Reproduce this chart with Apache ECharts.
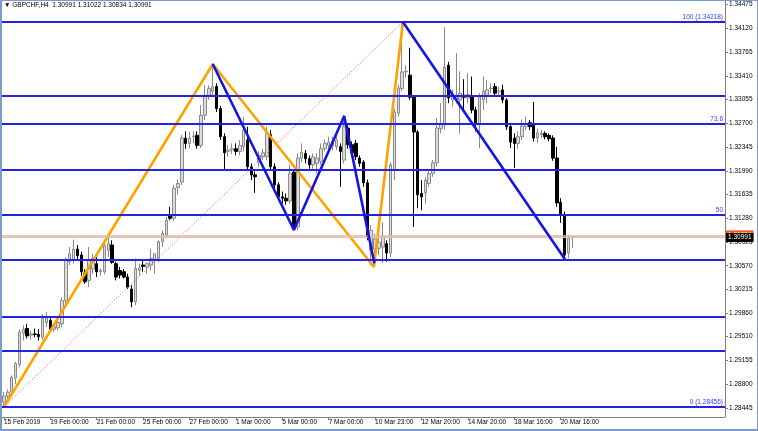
<!DOCTYPE html>
<html><head><meta charset="utf-8">
<script src="https://cdn.jsdelivr.net/npm/echarts@6/dist/echarts.min.js"></script>
<style>
html,body{margin:0;padding:0;background:#fff}
#w{position:relative;width:758px;height:431px}
#c{position:absolute;left:0;top:0;width:758px;height:431px}
#f{position:absolute;left:0;top:0;width:758px;height:431px;box-sizing:border-box;border:1px solid #7b9bc9;border-left-width:2px;border-bottom-width:2px;pointer-events:none}
</style>
</head><body>
<div id="w"><div id="c"></div><div id="f"></div></div>
<script>
// ---- data ----
const headerText = '\u25BC GBPCHF,H4  1.30991 1.31022 1.30834 1.30991';
const xTickLabels = ['15 Feb 2019','19 Feb 00:00','21 Feb 00:00','25 Feb 00:00','27 Feb 00:00','1 Mar 00:00','5 Mar 00:00','7 Mar 00:00','10 Mar 23:00','12 Mar 20:00','14 Mar 20:00','18 Mar 16:00','20 Mar 16:00'];
const xTickEvery = 12;
const slotCount = 187;
const yTickValues = [1.28445,1.28800,1.29155,1.29510,1.29860,1.30215,1.30570,1.30925,1.31280,1.31635,1.31990,1.32345,1.32700,1.33055,1.33410,1.33765,1.34120,1.34475];
const yMin = 1.28307, yMax = 1.34530;
// [open, high, low, close]
const ohlc = [
[1.2853,1.2868,1.28456,1.2862],[1.2862,1.2872,1.2858,1.2868],[1.2868,1.2893,1.2864,1.2890],[1.2889,1.2913,1.2880,1.2911],
[1.2909,1.2962,1.2905,1.2958],[1.2956,1.2968,1.2945,1.2962],[1.2963,1.2970,1.2948,1.2952],[1.2953,1.2960,1.2946,1.2955],
[1.2955,1.2963,1.2950,1.2954],[1.2954,1.2962,1.2945,1.2951],[1.2950,1.2985,1.2946,1.2978],[1.2972,1.2988,1.2965,1.2980],
[1.2975,1.2980,1.2958,1.2962],[1.2962,1.2970,1.2958,1.2966],[1.2964,1.2975,1.2960,1.2972],[1.2970,1.3010,1.2965,1.3005],
[1.3005,1.3070,1.3000,1.3065],[1.3063,1.3085,1.3058,1.3075],[1.3065,1.3096,1.3060,1.3082],[1.3082,1.3088,1.3067,1.3072],
[1.3073,1.3078,1.3042,1.3048],[1.3046,1.3052,1.3030,1.3033],[1.3035,1.3085,1.3025,1.3065],[1.3052,1.3075,1.3045,1.3068],
[1.3060,1.3070,1.3040,1.3048],[1.3048,1.3053,1.3042,1.3050],[1.3048,1.3095,1.3044,1.3087],[1.3080,1.3100,1.3070,1.3090],
[1.3088,1.3095,1.3060,1.3062],[1.3060,1.3063,1.3035,1.3040],[1.3050,1.3055,1.3038,1.3043],[1.3048,1.3052,1.3038,1.3040],
[1.3040,1.3045,1.3022,1.3025],[1.3022,1.3028,1.2995,1.3003],[1.3003,1.3068,1.2998,1.3053],[1.3050,1.3060,1.3042,1.3054],
[1.3058,1.3066,1.3048,1.3056],[1.3055,1.3062,1.3045,1.3060],[1.3058,1.3082,1.3050,1.3068],[1.3066,1.3075,1.3045,1.3075],
[1.3068,1.3095,1.3062,1.3093],[1.3093,1.3110,1.3085,1.3105],[1.3103,1.3130,1.3098,1.3125],[1.3132,1.3145,1.3125,1.3128],
[1.3128,1.3178,1.3124,1.3173],[1.3174,1.3186,1.3163,1.3180],[1.3182,1.3253,1.3178,1.3248],[1.3248,1.3258,1.3232,1.3240],
[1.3240,1.3257,1.3233,1.3248],[1.3250,1.3258,1.3240,1.3251],[1.3252,1.3258,1.3232,1.3237],[1.3237,1.3297,1.3233,1.3282],
[1.3282,1.3327,1.3275,1.3312],[1.3312,1.3327,1.3305,1.3322],[1.3318,1.3359,1.3310,1.3325],[1.3325,1.3330,1.3287,1.3292],
[1.3292,1.3296,1.3245,1.3250],[1.3250,1.3255,1.3200,1.3226],[1.3228,1.3238,1.3220,1.3230],[1.3230,1.3240,1.3224,1.3232],
[1.3232,1.3240,1.3222,1.3228],[1.3228,1.3245,1.3222,1.3237],[1.3235,1.3280,1.3228,1.3260],[1.3245,1.3265,1.3200,1.3205],
[1.3205,1.3210,1.3185,1.3193],[1.3193,1.3198,1.3166,1.3190],[1.3212,1.3228,1.3205,1.3222],[1.3220,1.3232,1.3215,1.3226],
[1.3220,1.3265,1.3215,1.3255],[1.3253,1.3260,1.3200,1.3205],[1.3205,1.3210,1.3172,1.3178],[1.3178,1.3182,1.3155,1.3160],
[1.3160,1.3168,1.3150,1.3158],[1.3158,1.3165,1.3148,1.3154],[1.3154,1.3208,1.3150,1.3195],[1.3197,1.3200,1.3110,1.3115],
[1.3115,1.3225,1.3110,1.3218],[1.3218,1.3240,1.3212,1.3227],[1.3225,1.3230,1.3210,1.3217],[1.3217,1.3222,1.3202,1.3208],
[1.3208,1.3225,1.3202,1.3220],[1.3210,1.3225,1.3195,1.3218],[1.3213,1.3240,1.3208,1.3232],[1.3232,1.3246,1.3228,1.3240],
[1.3237,1.3250,1.3232,1.3242],[1.3236,1.3250,1.3230,1.3243],[1.3235,1.3258,1.3230,1.3245],[1.3235,1.3240,1.3175,1.3228],
[1.3215,1.3282,1.3210,1.3265],[1.3263,1.3270,1.3232,1.3238],[1.3238,1.3243,1.3220,1.3226],[1.3240,1.3245,1.3215,1.3220],
[1.3218,1.3222,1.3205,1.3210],[1.3212,1.3215,1.3175,1.3181],[1.3181,1.3186,1.3095,1.3100],[1.3080,1.3118,1.3058,1.3110],
[1.3082,1.3105,1.3068,1.3097],[1.3083,1.3103,1.3073,1.3092],[1.3085,1.3122,1.3061,1.3100],[1.3090,1.3095,1.3063,1.3076],
[1.3076,1.3212,1.3070,1.3208],[1.3200,1.3292,1.3185,1.3287],[1.3285,1.3328,1.3280,1.3323],[1.3322,1.34218,1.3318,1.3347],
[1.3347,1.3357,1.3338,1.3348],[1.3342,1.3383,1.3305,1.3309],[1.3309,1.3312,1.3115,1.3257],[1.3257,1.3260,1.3143,1.3163],
[1.3165,1.3185,1.3140,1.3160],[1.3166,1.3190,1.3150,1.3185],[1.3180,1.3200,1.3175,1.3195],[1.3195,1.3215,1.3190,1.3211],
[1.3211,1.3278,1.3205,1.3263],[1.3262,1.3300,1.3255,1.3268],[1.3268,1.3414,1.3260,1.3354],[1.3357,1.3362,1.3300,1.3308],
[1.3305,1.3320,1.3295,1.3312],[1.3306,1.3375,1.3300,1.3312],[1.3305,1.3348,1.3255,1.3315],[1.3312,1.3336,1.3290,1.3309],
[1.3308,1.3345,1.3300,1.3313],[1.3310,1.3340,1.3285,1.3290],[1.3290,1.3295,1.3258,1.3268],[1.3268,1.3315,1.3233,1.3310],
[1.3305,1.3340,1.3290,1.3318],[1.3312,1.3335,1.3300,1.3320],[1.3322,1.3330,1.3315,1.3322],[1.3325,1.3330,1.3312,1.3315],
[1.3318,1.3325,1.3310,1.3318],[1.3320,1.3328,1.3300,1.3305],[1.3305,1.3308,1.3260,1.3265],[1.3265,1.3270,1.3233,1.3242],
[1.3248,1.3255,1.3203,1.3240],[1.3240,1.3258,1.3232,1.3250],[1.3250,1.3276,1.3245,1.3266],[1.3265,1.3280,1.3260,1.3270],
[1.3271,1.3275,1.3260,1.3265],[1.3267,1.3302,1.3243,1.3248],[1.3248,1.3262,1.3240,1.3256],[1.3253,1.3260,1.3248,1.3255],
[1.3255,1.3258,1.3246,1.3250],[1.3252,1.3255,1.3243,1.3247],[1.3248,1.3252,1.3214,1.3218],[1.3218,1.3235,1.3145,1.3151],
[1.3152,1.3158,1.3121,1.3133],[1.3133,1.3138,1.3067,1.3073],[1.3076,1.3103,1.3068,1.3098],[1.30991,1.31022,1.30834,1.30991]
];
const levelPrices = [1.34218,1.33108,1.32697,1.32012,1.31337,1.30657,1.29812,1.29293,1.28456];
const levelLabels = ['100 (1.34218)','','73.6','','50','','','','0 (1.28456)'];
const bidPrice = 1.30991;
const askPrice = 1.31024;
// drawings: [bar index, price]
const orangeZigzag = [[0,1.28456],[54,1.33588],[95.7,1.30551],[103.2,1.34216]];
const blueZigzag = [[54,1.33588],[75,1.31104],[88,1.32810],[95.8,1.30606]];
const blueTrend = [[103.2,1.34216],[145.1,1.30666]];
const fibBaseline = [[0,1.28456],[103.2,1.34218]];

// ---- chart ----
const FONT = 'Tahoma, "Liberation Sans", Arial, sans-serif';
const FS = 6.5;
const categories = Array.from({length: slotCount}, (_, i) => String(i));
const showTick = (i) => i % xTickEvery === 0 && i / xTickEvery < xTickLabels.length;
const chart = echarts.init(document.getElementById('c'), null, {renderer: 'canvas'});
const levelMarks = levelPrices.map((p, k) => ({
  yAxis: p,
  lineStyle: {color: '#2323e6', width: 2, type: 'solid'},
  label: {show: !!levelLabels[k], formatter: levelLabels[k], position: 'insideEndTop', color: '#3a3aff', fontSize: FS, fontFamily: FONT, distance: [2, 1]}
}));
const priceMarks = [{
  yAxis: askPrice,
  lineStyle: {color: '#f6ae96', width: 1.5, type: 'solid'},
  label: {show: true, position: 'end', formatter: askPrice.toFixed(5), color: '#fff', backgroundColor: '#ff5a14', fontSize: FS, fontFamily: FONT, padding: [2, 2, 1, 2], distance: 1}
}, {
  yAxis: bidPrice,
  lineStyle: {color: '#c8c8c8', width: 1, type: 'solid'},
  label: {show: true, position: 'end', formatter: bidPrice.toFixed(5), color: '#fff', backgroundColor: '#000', fontSize: FS, fontFamily: FONT, padding: [1, 2, 1, 2], distance: 1}
}];
const lineSeries = (data, color, width, type, z, marks) => {
  const s = {
    type: 'line', xAxisIndex: 1, yAxisIndex: 0, data, symbol: 'none', silent: true, z,
    lineStyle: {color, width, type}, animation: false
  };
  if (marks) s.markLine = {silent: true, symbol: ['none', 'none'], animation: false, precision: 5, data: marks};
  return s;
};
chart.setOption({
  animation: false,
  backgroundColor: '#ffffff',
  grid: {left: 2, top: 1, width: 723, height: 416, containLabel: false},
  graphic: [{type: 'text', left: 4, top: 2, style: {text: headerText, fontSize: FS, fontFamily: FONT, fill: '#000'}}],
  xAxis: [{
    type: 'category', data: categories, boundaryGap: true,
    axisLine: {show: true, onZero: false, lineStyle: {color: '#7f7f7f', width: 1}},
    axisTick: {show: true, alignWithLabel: true, interval: showTick, length: 3, lineStyle: {color: '#7f7f7f'}},
    axisLabel: {interval: showTick, formatter: (v, i) => xTickLabels[i / xTickEvery] || '', align: 'left', margin: 2, fontSize: FS, fontFamily: FONT, color: '#000'},
    splitLine: {show: false}
  }, {
    type: 'value', min: -0.5, max: slotCount - 0.5, show: false,
    axisLine: {show: false, onZero: false}, axisTick: {show: false}, axisLabel: {show: false}, splitLine: {show: false}
  }],
  yAxis: [{
    type: 'value', position: 'right', min: yMin, max: yMax, scale: true,
    axisLine: {show: true, onZero: false, lineStyle: {color: '#7f7f7f', width: 1}},
    axisTick: {show: true, length: 3, customValues: yTickValues, lineStyle: {color: '#7f7f7f'}},
    axisLabel: {customValues: yTickValues, formatter: (v) => Number(v).toFixed(5), fontSize: FS, fontFamily: FONT, color: '#000', margin: 4},
    splitLine: {show: false}
  }],
  series: [
    {
      type: 'candlestick', xAxisIndex: 0, yAxisIndex: 0, barWidth: 3, z: 2,
      data: ohlc.map(([o, h, l, c]) => [o, c, l, h]),
      itemStyle: {color: '#dcdcdc', borderColor: '#8a8a8a', color0: '#000000', borderColor0: '#000000', borderWidth: 1}
    },
    lineSeries(fibBaseline, '#e84a4a', 1, [1, 2], 3, levelMarks.concat(priceMarks)),
    lineSeries(orangeZigzag, '#ffa200', 2.6, 'solid', 4),
    lineSeries(blueZigzag, '#1414e6', 2.6, 'solid', 5),
    lineSeries(blueTrend, '#1414e6', 2.6, 'solid', 5)
  ]
});
</script>
</body></html>
